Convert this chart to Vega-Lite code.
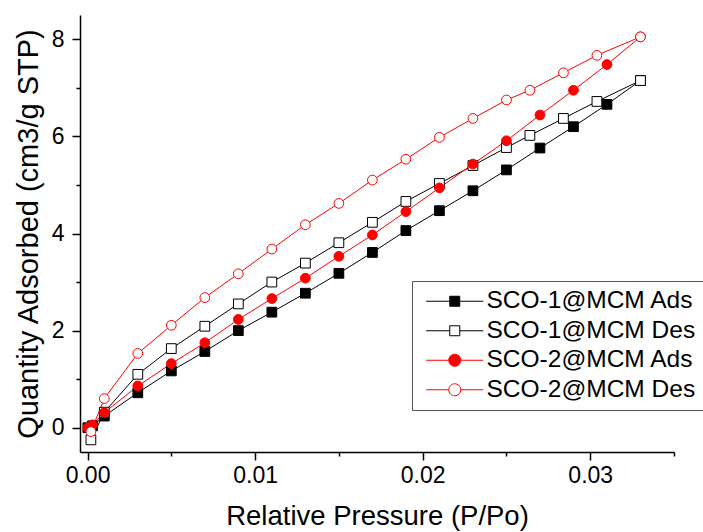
{
  "$schema": "https://vega.github.io/schema/vega-lite/v6.json",
  "width": 594,
  "height": 437,
  "autosize": {"type": "none"},
  "padding": {"left": 80, "top": 15, "right": 29, "bottom": 80},
  "background": "white",
  "config": {
    "view": {"stroke": null},
    "font": "Liberation Sans",
    "axis": {
      "domainColor": "black", "domainWidth": 1.5, "tickColor": "black", "tickWidth": 1.5,
      "labelColor": "black", "titleColor": "black", "labelFont": "Liberation Sans", "titleFont": "Liberation Sans",
      "labelFontSize": 23, "titleFontWeight": "normal", "grid": false, "labelOverlap": false
    },
    "legend": {"labelFont": "Liberation Sans", "labelFontSize": 24.5, "labelColor": "black", "labelLimit": 0}
  },
  "data": {"values": [
    {"series": "SCO-1@MCM Ads", "p": 0.00002, "q": 0.0},
    {"series": "SCO-1@MCM Ads", "p": 0.0003, "q": 0.04},
    {"series": "SCO-1@MCM Ads", "p": 0.001, "q": 0.24},
    {"series": "SCO-1@MCM Ads", "p": 0.003, "q": 0.72},
    {"series": "SCO-1@MCM Ads", "p": 0.005, "q": 1.17},
    {"series": "SCO-1@MCM Ads", "p": 0.007, "q": 1.57},
    {"series": "SCO-1@MCM Ads", "p": 0.009, "q": 2.0},
    {"series": "SCO-1@MCM Ads", "p": 0.011, "q": 2.38},
    {"series": "SCO-1@MCM Ads", "p": 0.013, "q": 2.77},
    {"series": "SCO-1@MCM Ads", "p": 0.015, "q": 3.18},
    {"series": "SCO-1@MCM Ads", "p": 0.017, "q": 3.61},
    {"series": "SCO-1@MCM Ads", "p": 0.019, "q": 4.06},
    {"series": "SCO-1@MCM Ads", "p": 0.021, "q": 4.47},
    {"series": "SCO-1@MCM Ads", "p": 0.023, "q": 4.88},
    {"series": "SCO-1@MCM Ads", "p": 0.025, "q": 5.31},
    {"series": "SCO-1@MCM Ads", "p": 0.027, "q": 5.76},
    {"series": "SCO-1@MCM Ads", "p": 0.029, "q": 6.2},
    {"series": "SCO-1@MCM Ads", "p": 0.031, "q": 6.66},
    {"series": "SCO-1@MCM Ads", "p": 0.033, "q": 7.15},
    {"series": "SCO-1@MCM Des", "p": 0.033, "q": 7.15},
    {"series": "SCO-1@MCM Des", "p": 0.0304, "q": 6.72},
    {"series": "SCO-1@MCM Des", "p": 0.0284, "q": 6.37},
    {"series": "SCO-1@MCM Des", "p": 0.0264, "q": 6.02},
    {"series": "SCO-1@MCM Des", "p": 0.025, "q": 5.77},
    {"series": "SCO-1@MCM Des", "p": 0.023, "q": 5.4},
    {"series": "SCO-1@MCM Des", "p": 0.021, "q": 5.03},
    {"series": "SCO-1@MCM Des", "p": 0.019, "q": 4.66},
    {"series": "SCO-1@MCM Des", "p": 0.017, "q": 4.23},
    {"series": "SCO-1@MCM Des", "p": 0.015, "q": 3.81},
    {"series": "SCO-1@MCM Des", "p": 0.013, "q": 3.39},
    {"series": "SCO-1@MCM Des", "p": 0.011, "q": 3.0},
    {"series": "SCO-1@MCM Des", "p": 0.009, "q": 2.55},
    {"series": "SCO-1@MCM Des", "p": 0.007, "q": 2.09},
    {"series": "SCO-1@MCM Des", "p": 0.005, "q": 1.63},
    {"series": "SCO-1@MCM Des", "p": 0.003, "q": 1.1},
    {"series": "SCO-1@MCM Des", "p": 0.001, "q": 0.32},
    {"series": "SCO-1@MCM Des", "p": 0.0002, "q": -0.25},
    {"series": "SCO-2@MCM Ads", "p": 0.00002, "q": 0.0},
    {"series": "SCO-2@MCM Ads", "p": 0.0003, "q": 0.06},
    {"series": "SCO-2@MCM Ads", "p": 0.001, "q": 0.31},
    {"series": "SCO-2@MCM Ads", "p": 0.003, "q": 0.86},
    {"series": "SCO-2@MCM Ads", "p": 0.005, "q": 1.32},
    {"series": "SCO-2@MCM Ads", "p": 0.007, "q": 1.75},
    {"series": "SCO-2@MCM Ads", "p": 0.009, "q": 2.23},
    {"series": "SCO-2@MCM Ads", "p": 0.011, "q": 2.66},
    {"series": "SCO-2@MCM Ads", "p": 0.013, "q": 3.08},
    {"series": "SCO-2@MCM Ads", "p": 0.015, "q": 3.53},
    {"series": "SCO-2@MCM Ads", "p": 0.017, "q": 3.97},
    {"series": "SCO-2@MCM Ads", "p": 0.019, "q": 4.45},
    {"series": "SCO-2@MCM Ads", "p": 0.021, "q": 4.94},
    {"series": "SCO-2@MCM Ads", "p": 0.023, "q": 5.43},
    {"series": "SCO-2@MCM Ads", "p": 0.025, "q": 5.91},
    {"series": "SCO-2@MCM Ads", "p": 0.027, "q": 6.44},
    {"series": "SCO-2@MCM Ads", "p": 0.029, "q": 6.95},
    {"series": "SCO-2@MCM Ads", "p": 0.031, "q": 7.48},
    {"series": "SCO-2@MCM Ads", "p": 0.033, "q": 8.05},
    {"series": "SCO-2@MCM Des", "p": 0.033, "q": 8.05},
    {"series": "SCO-2@MCM Des", "p": 0.0304, "q": 7.67},
    {"series": "SCO-2@MCM Des", "p": 0.0284, "q": 7.31},
    {"series": "SCO-2@MCM Des", "p": 0.0264, "q": 6.95},
    {"series": "SCO-2@MCM Des", "p": 0.025, "q": 6.75},
    {"series": "SCO-2@MCM Des", "p": 0.023, "q": 6.37},
    {"series": "SCO-2@MCM Des", "p": 0.021, "q": 5.98},
    {"series": "SCO-2@MCM Des", "p": 0.019, "q": 5.53},
    {"series": "SCO-2@MCM Des", "p": 0.017, "q": 5.1},
    {"series": "SCO-2@MCM Des", "p": 0.015, "q": 4.62},
    {"series": "SCO-2@MCM Des", "p": 0.013, "q": 4.18},
    {"series": "SCO-2@MCM Des", "p": 0.011, "q": 3.68},
    {"series": "SCO-2@MCM Des", "p": 0.009, "q": 3.17},
    {"series": "SCO-2@MCM Des", "p": 0.007, "q": 2.68},
    {"series": "SCO-2@MCM Des", "p": 0.005, "q": 2.11},
    {"series": "SCO-2@MCM Des", "p": 0.003, "q": 1.53},
    {"series": "SCO-2@MCM Des", "p": 0.001, "q": 0.6},
    {"series": "SCO-2@MCM Des", "p": 0.0002, "q": -0.08}
  ]},
  "encoding": {
    "x": {
      "field": "p", "type": "quantitative",
      "scale": {"domain": [-0.00045, 0.035], "nice": false, "zero": false},
      "axis": {
        "title": "Relative Pressure (P/Po)",
        "titleFontSize": 27.5,
        "values": [0, 0.005, 0.01, 0.015, 0.02, 0.025, 0.03, 0.035],
        "format": ".2f",
        "labelExpr": "abs(datum.value*100 - round(datum.value*100)) < 0.000001 ? datum.label : ''",
        "tickSize": {"condition": {"test": "abs(datum.value*100 - round(datum.value*100)) < 0.000001", "value": 8}, "value": 4},
        "labelPadding": 4,
        "titlePadding": 15
      }
    },
    "y": {
      "field": "q", "type": "quantitative",
      "scale": {"domain": [-0.5, 8.5], "nice": false, "zero": false},
      "axis": {
        "title": "Quantity Adsorbed (cm3/g STP)",
        "titleFontSize": 29,
        "values": [0, 1, 2, 3, 4, 5, 6, 7, 8],
        "labelExpr": "datum.value % 2 === 0 ? datum.label : ''",
        "tickSize": {"condition": {"test": "datum.value % 2 === 0", "value": 8}, "value": 4},
        "labelPadding": 8,
        "titlePadding": 8
      }
    }
  },
  "layer": [
    {
      "mark": {"type": "line", "strokeWidth": 1},
      "encoding": {
        "stroke": {"field": "series", "type": "nominal",
          "scale": {"domain": ["SCO-1@MCM Ads", "SCO-1@MCM Des", "SCO-2@MCM Ads", "SCO-2@MCM Des"], "range": ["#000000", "#000000", "#ff0000", "#ff0000"]},
          "legend": null}
      }
    },
    {
      "mark": {"type": "point", "opacity": 1, "strokeWidth": 1},
      "encoding": {
        "shape": {"field": "series", "type": "nominal",
          "scale": {"domain": ["SCO-1@MCM Ads", "SCO-1@MCM Des", "SCO-2@MCM Ads", "SCO-2@MCM Des"], "range": ["square", "square", "circle", "circle"]},
          "legend": null},
        "fill": {"field": "series", "type": "nominal",
          "scale": {"domain": ["SCO-1@MCM Ads", "SCO-1@MCM Des", "SCO-2@MCM Ads", "SCO-2@MCM Des"], "range": ["#000000", "#ffffff", "#ff0000", "#ffffff"]},
          "legend": null},
        "stroke": {"field": "series", "type": "nominal",
          "scale": {"domain": ["SCO-1@MCM Ads", "SCO-1@MCM Des", "SCO-2@MCM Ads", "SCO-2@MCM Des"], "range": ["#000000", "#000000", "#ff0000", "#ff0000"]},
          "legend": null},
        "size": {"field": "series", "type": "nominal",
          "scale": {"domain": ["SCO-1@MCM Ads", "SCO-1@MCM Des", "SCO-2@MCM Ads", "SCO-2@MCM Des"], "range": [95, 95, 110, 110]},
          "legend": null}
      }
    },
    {
      "transform": [{"filter": "false"}],
      "mark": {"type": "point", "opacity": 1, "strokeWidth": 1, "size": 144},
      "encoding": {
        "shape": {"field": "series", "type": "nominal",
          "scale": {"domain": ["SCO-1@MCM Ads", "SCO-1@MCM Des", "SCO-2@MCM Ads", "SCO-2@MCM Des"],
            "range": [
              "M-1,0H2.917M4.583,0H8.5M2.917,-0.833H4.583V0.833H2.917Z",
              "M-1,0H2.917M4.583,0H8.5M2.917,-0.833H4.583V0.833H2.917Z",
              "M-1,0H2.75M4.75,0H8.5M4.75,0A1,1 0 1,1 2.75,0A1,1 0 1,1 4.75,0Z",
              "M-1,0H2.75M4.75,0H8.5M4.75,0A1,1 0 1,1 2.75,0A1,1 0 1,1 4.75,0Z"
            ]},
          "legend": {"title": null, "orient": "none", "legendX": 332, "legendY": 266, "strokeColor": "#555555", "padding": 8, "symbolSize": 144, "symbolStrokeWidth": 1, "rowPadding": 4.5, "labelOffset": 42, "symbolOpacity": 1}},
        "fill": {"field": "series", "type": "nominal",
          "scale": {"domain": ["SCO-1@MCM Ads", "SCO-1@MCM Des", "SCO-2@MCM Ads", "SCO-2@MCM Des"], "range": ["#000000", "#ffffff", "#ff0000", "#ffffff"]},
          "legend": {"title": null, "orient": "none", "legendX": 332, "legendY": 266, "strokeColor": "#555555", "padding": 8, "symbolSize": 144, "symbolStrokeWidth": 1, "rowPadding": 4.5, "labelOffset": 42, "symbolOpacity": 1}},
        "stroke": {"field": "series", "type": "nominal",
          "scale": {"domain": ["SCO-1@MCM Ads", "SCO-1@MCM Des", "SCO-2@MCM Ads", "SCO-2@MCM Des"], "range": ["#000000", "#000000", "#ff0000", "#ff0000"]},
          "legend": {"title": null, "orient": "none", "legendX": 332, "legendY": 266, "strokeColor": "#555555", "padding": 8, "symbolSize": 144, "symbolStrokeWidth": 1, "rowPadding": 4.5, "labelOffset": 42, "symbolOpacity": 1}}
      }
    }
  ],
  "resolve": {"scale": {"shape": "independent", "fill": "independent", "stroke": "independent", "size": "independent"}}
}
